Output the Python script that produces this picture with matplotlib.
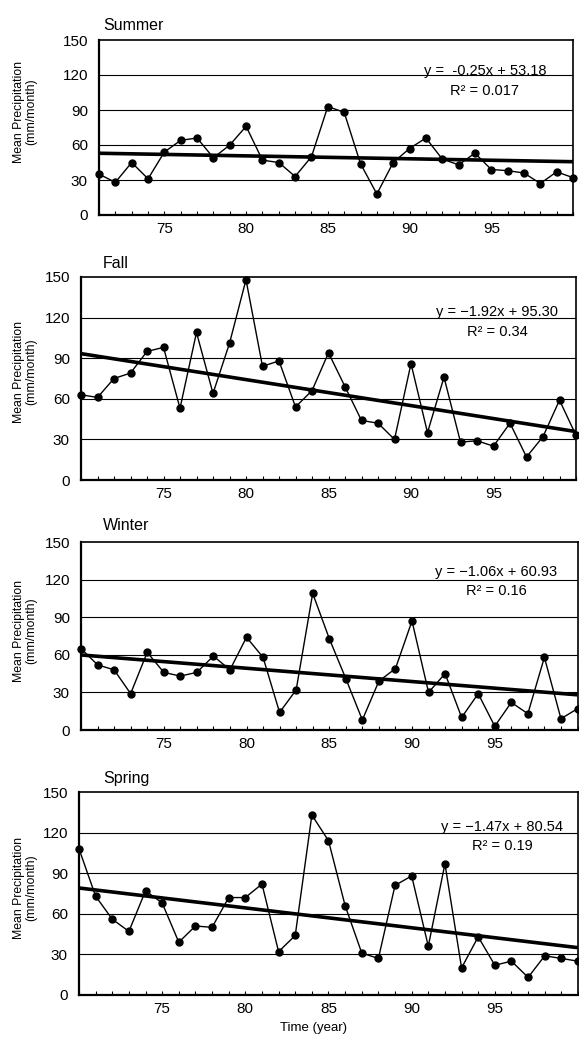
import numpy as np
import matplotlib
matplotlib.use("Agg")
import matplotlib.pyplot as plt
from matplotlib.ticker import MultipleLocator

plt.rcParams['font.family'] = ['Liberation Sans', 'DejaVu Sans']

# ---------------- data ----------------
seasons = ["Summer", "Fall", "Winter", "Spring"]
years_summer = list(range(71, 101))
years_other = list(range(70, 101))
summer = [35, 28, 45, 31, 54, 64, 66, 49, 60, 76, 47, 45, 33, 50, 93, 88, 44, 18,
          45, 57, 66, 48, 43, 53, 39, 38, 36, 27, 37, 32]
fall = [63, 61, 75, 79, 95, 98, 53, 109, 64, 101, 148, 84, 88, 54, 66, 94, 69, 44,
        42, 30, 86, 35, 76, 28, 29, 25, 42, 17, 32, 59, 33]
winter = [65, 52, 48, 29, 62, 46, 43, 46, 59, 48, 74, 58, 14, 32, 109, 73, 41, 8,
          39, 49, 87, 30, 45, 10, 29, 3, 22, 13, 58, 9, 17]
spring = [108, 73, 56, 47, 77, 68, 39, 51, 50, 72, 72, 82, 32, 44, 133, 114, 66, 31,
          27, 81, 88, 36, 97, 20, 43, 22, 25, 13, 29, 27, 25]
slopes = [-0.25, -1.92, -1.06, -1.47]
intercepts = [53.18, 95.30, 60.93, 80.54]
eq_labels = ["y =  -0.25x + 53.18", "y = \u22121.92x + 95.30",
             "y = \u22121.06x + 60.93", "y = \u22121.47x + 80.54"]
r2_labels = ["R\u00b2 = 0.017", "R\u00b2 = 0.34", "R\u00b2 = 0.16", "R\u00b2 = 0.19"]
yticks = [0, 30, 60, 90, 120, 150]
xticks = [75, 80, 85, 90, 95]

series = [(years_summer, summer), (years_other, fall),
          (years_other, winter), (years_other, spring)]

# ---------------- layout (pixels) ----------------
W, H = 579, 1037
fig = plt.figure(figsize=(W / 100, H / 100), dpi=100)

# left, right, top, bottom in pixels
boxes = [(99, 573, 40, 215), (81, 576, 277, 480),
         (81, 577.5, 542, 730), (79, 578, 792, 995)]
title_pos = [(103, 30), (103, 268), (103, 530), (103, 783)]
eq_pos = [(485, 75, 95), (497, 316, 336), (496, 576, 595), (502, 831, 850)]
ylab_y = [112, 372, 631, 888]

def fx(px):
    return px / W

def fy(py):
    return 1 - py / H

for i, (name, (yrs, vals)) in enumerate(zip(seasons, series)):
    l, r, t, b = boxes[i]
    ax = fig.add_axes([fx(l), fy(b), (r - l) / W, (b - t) / H])
    ax.set_xlim(yrs[0], yrs[-1])
    ax.set_ylim(0, 150)
    ax.set_yticks(yticks)
    ax.set_xticks(xticks)
    ax.xaxis.set_minor_locator(MultipleLocator(1))
    ax.tick_params(axis='y', length=0, pad=8, labelsize=11)
    ax.tick_params(axis='x', which='both', direction='in', length=3, width=0.8,
                   pad=5, labelsize=11)
    for yv in yticks[1:-1]:
        ax.axhline(yv, color='black', lw=0.8, zorder=1)
    for side in ['left', 'bottom']:
        ax.spines[side].set_linewidth(1.6)
    for side in ['top', 'right']:
        ax.spines[side].set_linewidth(1.2)

    ax.plot(yrs, vals, color='black', lw=1.0, marker='o', markersize=5,
            zorder=3, clip_on=False)
    idx = np.arange(1, len(yrs) + 1)
    trend = slopes[i] * idx + intercepts[i]
    ax.plot(yrs, trend, color='black', lw=2.6, zorder=2, solid_capstyle='butt')

    tx, ty = title_pos[i]
    fig.text(fx(tx), fy(ty), name, fontsize=11.5, ha='left', va='baseline')
    ex, ey1, ey2 = eq_pos[i]
    fig.text(fx(ex), fy(ey1), eq_labels[i], fontsize=10.5, ha='center', va='baseline')
    fig.text(fx(ex), fy(ey2), r2_labels[i], fontsize=10.5, ha='center', va='baseline')
    fig.text(fx(25), fy(ylab_y[i]), "Mean Precipitation\n(mm/month)", fontsize=8.8,
             rotation=90, ha='center', va='center', multialignment='center',
             linespacing=1.1)

fig.text(fx(313), fy(1028), "Time (year)", fontsize=9.5, ha='center', va='center')

fig.savefig("out.png", dpi=100)
